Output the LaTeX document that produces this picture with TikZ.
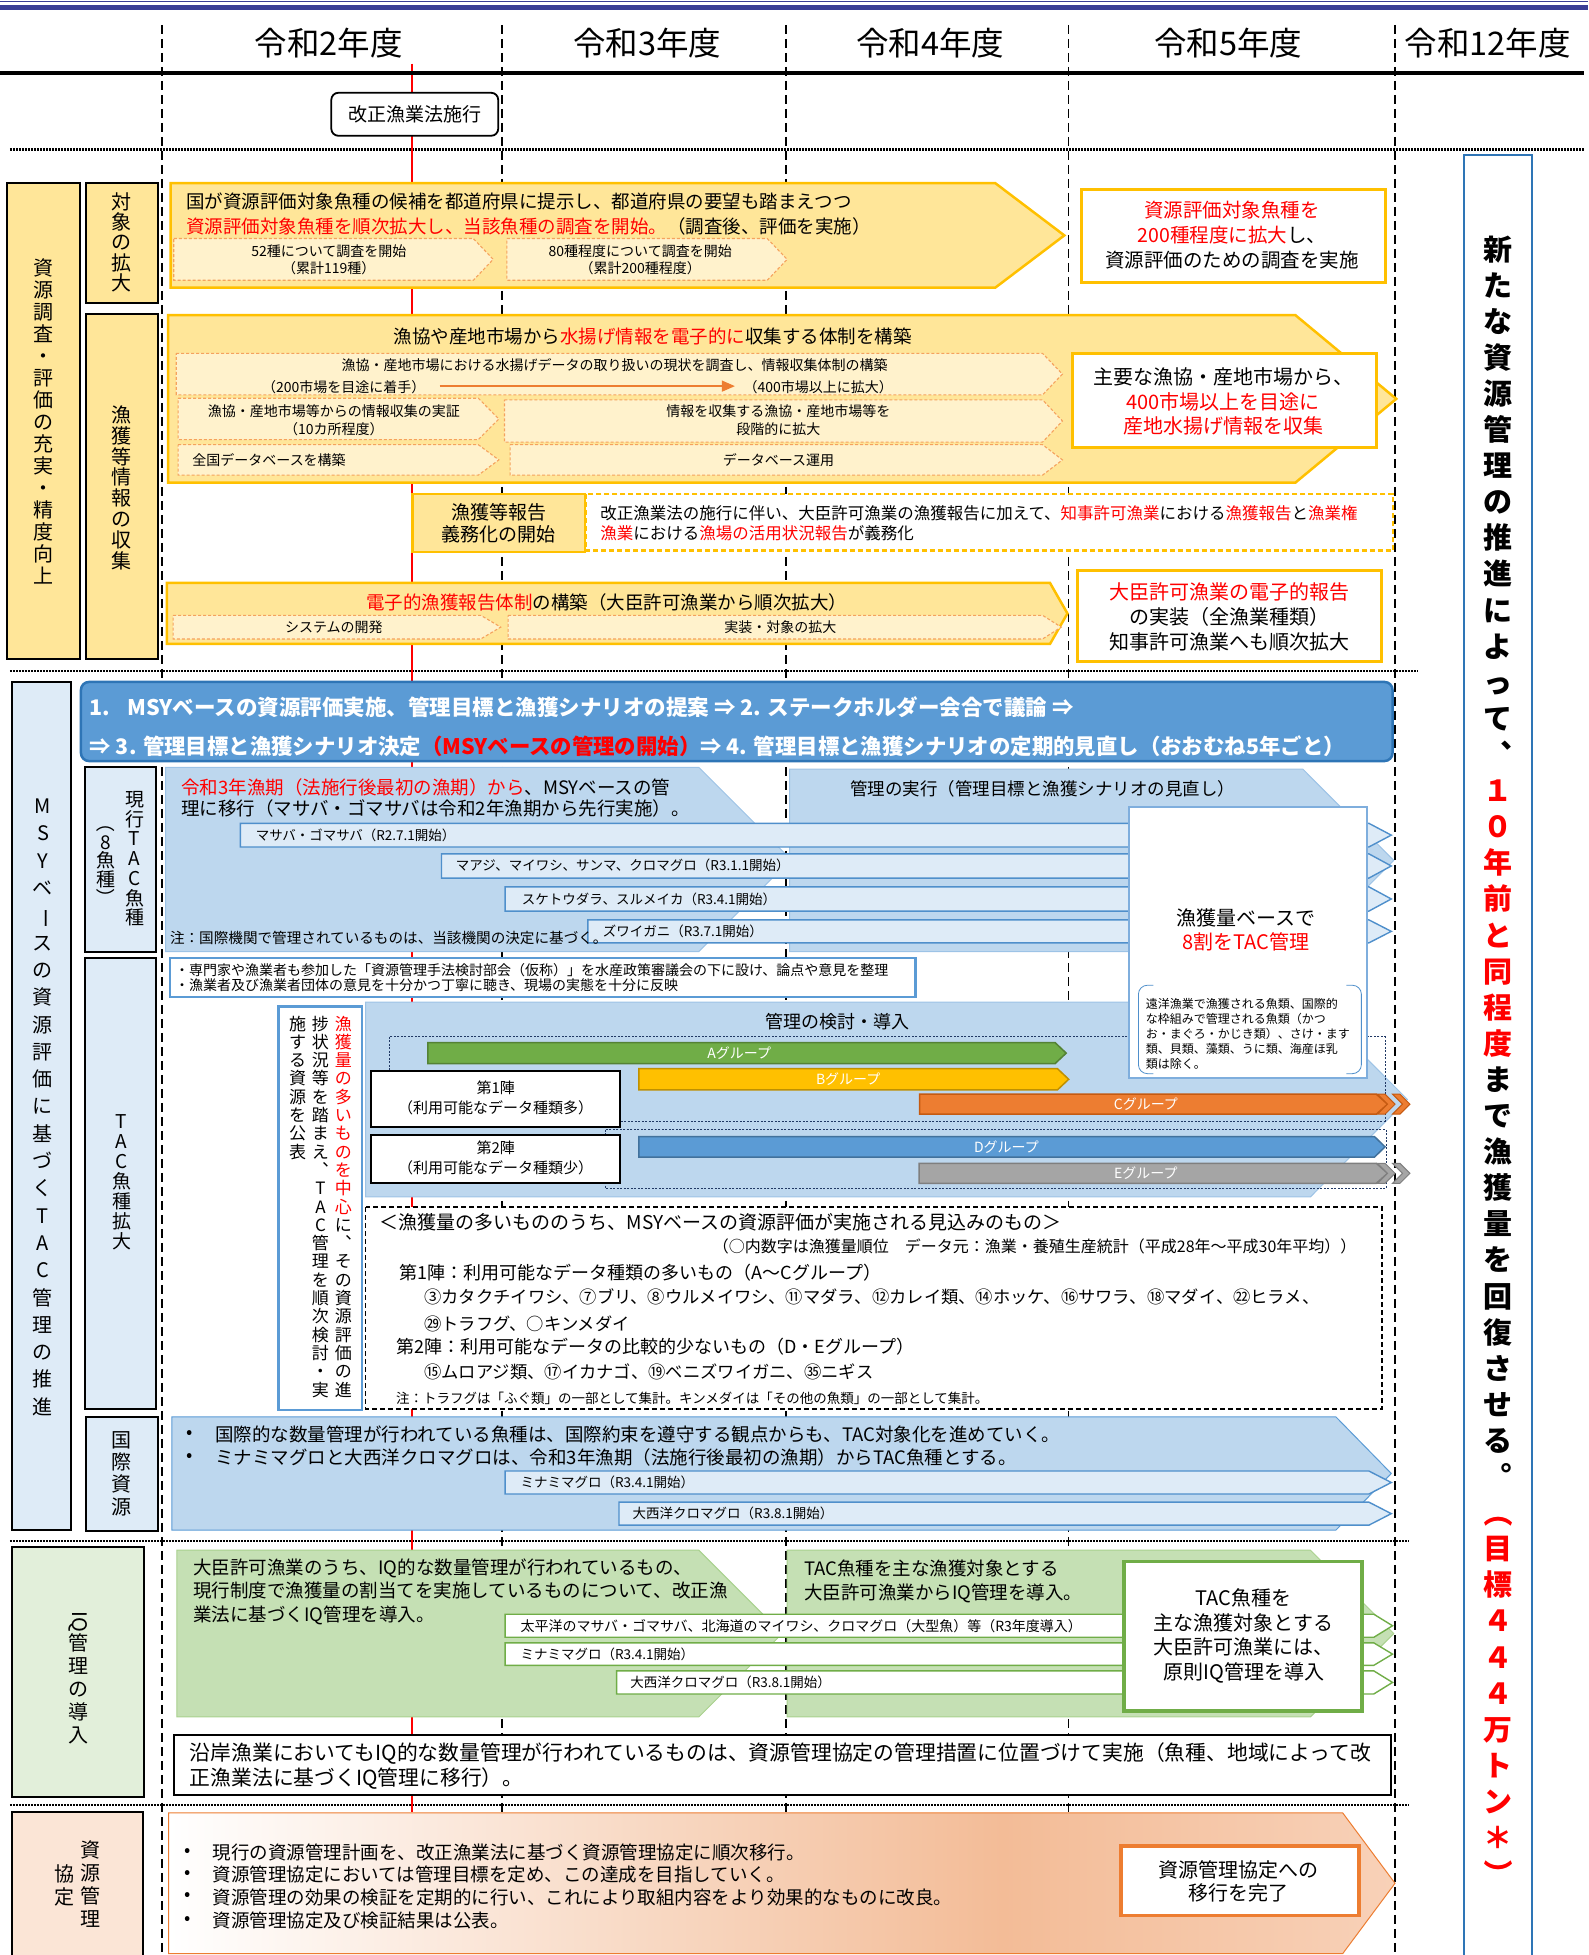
\documentclass[tikz,border=0pt]{standalone}
\usepackage{fontspec}
\setmainfont{Noto Sans CJK JP}
\usepackage{graphicx}
\usetikzlibrary{arrows.meta}
\definecolor{navyb}{RGB}{58,62,150}
\definecolor{yf}{HTML}{FFE699}
\definecolor{yb}{HTML}{FFC000}
\definecolor{ys}{HTML}{FFF2CC}
\definecolor{subd}{HTML}{F5A25D}
\definecolor{lb}{HTML}{BDD7EE}
\definecolor{lbb}{HTML}{9DC3E6}
\definecolor{barf}{HTML}{DEEBF7}
\definecolor{barb}{HTML}{4F8FCB}
\definecolor{ban}{HTML}{5B9BD5}
\definecolor{banb}{HTML}{2E75B6}
\definecolor{gf}{HTML}{C5E0B4}
\definecolor{gb}{HTML}{70AD47}
\definecolor{gl}{HTML}{E2EFDA}
\definecolor{gbl}{HTML}{A9D18E}
\definecolor{pl}{HTML}{FBE5D6}
\definecolor{ob}{HTML}{ED7D31}
\definecolor{pch2}{HTML}{F3BC97}
\definecolor{pch3}{HTML}{F8D1B8}
\definecolor{grA}{HTML}{70AD47}\definecolor{grAb}{HTML}{548235}
\definecolor{grB}{HTML}{FFC000}\definecolor{grBb}{HTML}{BF9000}
\definecolor{grC}{HTML}{ED7D31}\definecolor{grCb}{HTML}{C55A11}
\definecolor{grD}{HTML}{5B9BD5}\definecolor{grDb}{HTML}{41719C}
\definecolor{grE}{HTML}{A5A5A5}\definecolor{grEb}{HTML}{7F7F7F}
\definecolor{dnavy}{HTML}{203864}
\definecolor{rbb}{HTML}{2E75B6}
\definecolor{wbb}{HTML}{7FAEDD}
\pgfdeclarehorizontalshading{peachsh}{100bp}{color(0bp)=(white); color(25bp)=(white); color(59bp)=(pch2); color(75bp)=(pch3); color(100bp)=(pch3)}
\newcommand\fsz[2]{\fontsize{#1}{#2}\selectfont}
\newcommand\rt[1]{\rotatebox[origin=c]{-90}{#1}}
\newcommand\vcm{︑}
\newcommand\vpd{︒}
\makeatletter
\def\vsend{\vsend}\def\vR{\vR}\def\vK{\vK}
\def\vsA#1{%
  \ifx\vsend#1\let\vs@next\relax
  \else\ifx\vR#1\def\vcur{red}\let\vs@next\vsA
  \else\ifx\vK#1\def\vcur{black}\let\vs@next\vsA
  \else\hbox to 1em{\hss\textcolor{\vcur}{#1}\hss}\let\vs@next\vsA
  \fi\fi\fi\vs@next}
\newcommand\V[1]{\vbox{\lineskiplimit=-\maxdimen\def\vcur{black}\vsA#1\vsend}}
\makeatother
\newcommand\penta[6]{\path[#1] (#2,#3) -- (#4,#3) -- (#5,{(#3+#6)/2}) -- (#4,#6) -- (#2,#6) -- cycle;}
\newcommand\chev[4]{\path[#1] (#2,#3) -- ({#2+6},#3) -- ({#2+14},{(#3+#4)/2}) -- ({#2+6},#4) -- (#2,#4) -- ({#2+8},{(#3+#4)/2}) -- cycle;}
\tikzset{
  every node/.style={inner sep=0pt, outer sep=0pt},
  vdash/.style={line width=1.5pt, dash pattern=on 9pt off 5pt},
  hdot/.style={line width=2.2pt, dash pattern=on 1.6pt off 1.4pt},
  lbl/.style={draw=black, line width=2pt},
  yarrow/.style={fill=yf, draw=yb, line width=2.5pt},
  sub/.style={fill=ys, draw=subd, line width=1.1pt, dash pattern=on 3pt off 2pt},
  ybox/.style={fill=white, draw=yb, line width=3pt},
  lbshape/.style={fill=lb, draw=lbb, line width=1pt},
  bbar/.style={fill=barf, draw=barb, line width=1.4pt},
  gbar/.style={fill=white, draw=gb, line width=1.4pt},
  gdot/.style={draw=dnavy, line width=0.9pt, dash pattern=on 2pt off 1.5pt},
  barlbl/.style={anchor=west, font=\fsz{13.5}{16}},
  sublbl/.style={font=\fsz{14}{17.4}, align=center},
  grlbl/.style={font=\fsz{14}{16}, text=white},
}
\begin{document}
\begin{tikzpicture}[x=1.2455pt,y=-1.2455pt]
\useasboundingbox (0,0) rectangle (1275,1569.6);
% ---------- background grid ----------
\fill[navyb] (0,0.9) rectangle (1275,1.7);
\fill[navyb] (0,4.0) rectangle (1275,8.0);
\foreach \x in {130,403,631,858,1120} \draw[vdash] (\x,20) -- (\x,1575);
\draw[hdot] (8,120) -- (1272,120);
\draw[hdot] (8,539) -- (1138,539);
\draw[hdot] (8,1237) -- (1131,1237);
\draw[hdot] (8,1449) -- (1131,1449);
\draw[red, line width=2pt] (331,51) -- (331,1455);
\draw[line width=4pt] (0,58.6) -- (1272,58.6);
\node[font=\fsz{32.5}{36}] (y2) at (264,34.8) {令和2年度};
\node[font=\fsz{32.5}{36}] (y3) at (519.5,34.8) {令和3年度};
\node[font=\fsz{32.5}{36}] (y4) at (747,34.8) {令和4年度};
\node[font=\fsz{32.5}{36}] (y5) at (986,34.8) {令和5年度};
\node[font=\fsz{32.5}{36}] (y12) at (1194.4,34.8) {令和12年度};
\path[draw=black, line width=1.8pt, fill=white, rounded corners=7pt] (266,74.5) rectangle (400,109);
\node[font=\fsz{19}{22}] (kaisei) at (333,92) {改正漁業法施行};
% ---------- right column ----------
\path[draw=rbb, line width=2pt, fill=white] (1175,124.5) rectangle (1230,1575);
\node[font=\bfseries\fsz{29}{36.1}] (goal) at (1202.7,852.5) {\V{新たな資源管理の推進によって\vcm\vR １０年前と同程度\vK まで漁獲量を回復させる\vpd\vR{\rt{（}}目標４４４万トン＊{\rt{）}}}};
% ---------- section 1 ----------
\path[lbl, fill=yf] (6,147) rectangle (64,529);
\path[lbl, fill=yf] (69,147) rectangle (127,243);
\path[lbl, fill=yf] (69,252) rectangle (127,529);
\node[font=\fsz{20}{22}] (v1) at (34.6,338) {\V{資源調査・評価の充実・精度向上}};
\node[font=\fsz{20}{20.2}] (v2) at (97.6,194.5) {\V{対象の拡大}};
\node[font=\fsz{20}{20.8}] (v3) at (97.6,391.5) {\V{漁獲等情報の収集}};
\penta{yarrow}{137}{147}{799}{854.5}{231}
\node[anchor=west, font=\fsz{18.5}{22}] (s1a) at (149.6,162) {国が資源評価対象魚種の候補を都道府県に提示し、都道府県の要望も踏まえつつ};
\node[anchor=west, font=\fsz{18.5}{22}] (s1b) at (149.6,181.5) {\textcolor{red}{資源評価対象魚種を順次拡大し、当該魚種の調査を開始。}（調査後、評価を実施）};
\penta{sub}{139.5}{191.5}{380}{396}{225}
\penta{sub}{407}{191.5}{616}{632}{225}
\node[sublbl] (s1c) at (264,208.5) {52種について調査を開始\\（累計119種）};
\node[sublbl] (s1d) at (514,208.5) {80種程度について調査を開始\\（累計200種程度）};
\path[ybox] (868,152.5) rectangle (1112,227);
\node[align=center, font=\fsz{19.5}{24.9}] (s1e) at (989,189) {\textcolor{red}{資源評価対象魚種を}\\\textcolor{red}{200種程度に拡大}し、\\資源評価のための調査を実施};
\penta{yarrow}{135}{253}{1040}{1121}{387.5}
\node[font=\fsz{18.5}{22}] (s2a) at (524,270) {漁協や産地市場から\textcolor{red}{水揚げ情報を電子的に}収集する体制を構築};
\penta{sub}{141.5}{283.7}{837}{853}{317}
\penta{sub}{143}{319.7}{384}{400.5}{353}
\penta{sub}{405}{321}{837}{853}{355}
\penta{sub}{143}{357}{384}{400.5}{381.5}
\penta{sub}{409.5}{357}{837}{853}{381.5}
\node[font=\fsz{14}{17}] (s2b) at (493.5,293) {漁協・産地市場における水揚げデータの取り扱いの現状を調査し、情報収集体制の構築};
\node[font=\fsz{14}{17}] (s2c) at (276,310.5) {（200市場を目途に着手）};
\node[font=\fsz{14}{17}] (s2d) at (657,310.5) {（400市場以上に拡大）};
\coordinate (arS) at (353,310);
\coordinate (arE) at (590,310);
\draw[draw=ob, line width=1.3pt, -{Triangle[length=13pt,width=11pt]}] (arS) -- (arE);
\node[align=center, font=\fsz{14}{18}] (s2e) at (268,337.3) {漁協・産地市場等からの情報収集の実証\\（10カ所程度）};
\node[align=center, font=\fsz{14}{18}] (s2f) at (625,337.5) {情報を収集する漁協・産地市場等を\\段階的に拡大};
\node[anchor=west, font=\fsz{14}{17}] (s2g) at (154.5,369.5) {全国データベースを構築};
\node[font=\fsz{14}{17}] (s2h) at (625,369.5) {データベース運用};
\path[ybox] (861,284) rectangle (1105,359);
\node[align=center, font=\fsz{20}{24.6}] (s2i) at (982,322.3) {主要な漁協・産地市場から、\\\textcolor{red}{400市場以上を目途に}\\\textcolor{red}{産地水揚げ情報を収集}};
\path[fill=yf, draw=yb, line width=2.5pt] (331,396.6) rectangle (469.5,443);
\path[fill=white, draw=yb, line width=2.5pt, dash pattern=on 5pt off 3pt] (470.5,396.6) rectangle (1118.5,442);
\node[align=center, font=\fsz{19}{22.4}] (s2j) at (400.5,420) {漁獲等報告\\義務化の開始};
\node[anchor=west, align=left, font=\fsz{16.5}{20}] (s2k) at (482,420) {改正漁業法の施行に伴い、大臣許可漁業の漁獲報告に加えて、\textcolor{red}{知事許可漁業}における\textcolor{red}{漁獲報告}と\textcolor{red}{漁業権}\\\textcolor{red}{漁業}における\textcolor{red}{漁場の活用状況報告}が義務化};
\penta{yarrow}{134}{468}{843}{857}{517}
\node[font=\fsz{18.5}{22}] (s3a) at (487,484) {\textcolor{red}{電子的漁獲報告体制}の構築（大臣許可漁業から順次拡大）};
\penta{sub}{139}{494}{386}{402}{513}
\penta{sub}{408}{494}{837}{852}{513}
\node[font=\fsz{14}{17}] (s3b) at (268,503.5) {システムの開発};
\node[font=\fsz{14}{17}] (s3c) at (626.5,503.5) {実装・対象の拡大};
\path[ybox] (865,458) rectangle (1109,531);
\node[align=center, font=\fsz{20}{25.2}] (s3d) at (987,495.3) {\textcolor{red}{大臣許可漁業の電子的報告}\\の実装（全漁業種類）\\知事許可漁業へも順次拡大};
% ---------- section 2 ----------
\path[lbl, fill=barf] (10,547.5) rectangle (57,1228);
\path[lbl, fill=barf] (68,616) rectangle (125,764);
\path[lbl, fill=barf] (68,769) rectangle (125,1131);
\path[lbl, fill=barf] (69,1138) rectangle (127,1229);
\node[font=\fsz{20}{27.3}] (v4) at (34.5,889) {\V{MSYベ{\rt{ー}}スの資源評価に基づくTAC管理の推進}};
\node[font=\fsz{19}{19.7}] (v5) at (108,689.5) {\V{現行TAC魚種}};
\node[font=\fsz{19}{18.7}] (v6) at (85,691) {\V{{\rt{（}}8魚種{\rt{）}}}};
\node[font=\fsz{19}{20}] (v7) at (97.6,949) {\V{TAC魚種拡大}};
\node[font=\fsz{20}{22.4}] (v8) at (97.6,1183) {\V{国際資源}};
\path[fill=ban, draw=banb, line width=2.5pt, rounded corners=8pt] (65,547.5) rectangle (1118,611);
\node[anchor=west, font=\bfseries\fsz{21.5}{24}, text=white] (b1) at (72,567.5) {1.\hspace{0.8em}MSYベースの資源評価実施、管理目標と漁獲シナリオの提案 ⇒ 2. ステークホルダー会合で議論 ⇒};
\node[anchor=west, font=\bfseries\fsz{21.4}{24}, text=white] (b2) at (72,599) {⇒ 3. 管理目標と漁獲シナリオ決定\textcolor{red}{（MSYベースの管理の開始）}⇒ 4. 管理目標と漁獲シナリオの定期的見直し（おおむね5年ごと）};
\penta{lbshape}{133}{616}{561}{635}{764}
\penta{lbshape}{634}{617.5}{1046}{1119}{764}
\node[anchor=west, align=left, font=\fsz{18.5}{21.2}] (g1) at (145.6,640.5) {\textcolor{red}{令和3年漁期（法施行後最初の漁期）から}、MSYベースの管\\理に移行（マサバ・ゴマサバは令和2年漁期から先行実施）。};
\node[font=\fsz{17.5}{21}] (g2) at (837,633) {管理の実行（管理目標と漁獲シナリオの見直し）};
\penta{bbar}{193}{661}{1099}{1117}{680}
\penta{bbar}{354.5}{685.5}{1099}{1117}{705}
\penta{bbar}{405.5}{712}{1099}{1117}{731.5}
\penta{bbar}{472}{738.5}{1099}{1117}{757}
\node[barlbl] (g3) at (205.5,670.5) {マサバ・ゴマサバ（R2.7.1開始）};
\node[barlbl] (g4) at (366,695) {マアジ、マイワシ、サンマ、クロマグロ（R3.1.1開始）};
\node[barlbl] (g5) at (419,722) {スケトウダラ、スルメイカ（R3.4.1開始）};
\node[barlbl] (g6) at (484,748) {ズワイガニ（R3.7.1開始）};
\node[anchor=west, font=\fsz{14.6}{17}] (g7) at (136.5,753) {注：国際機関で管理されているものは、当該機関の決定に基づく。};
% management study area
\penta{lbshape}{293.5}{804.5}{1052}{1130}{961}
\path[gdot] (313,832.5) rectangle (1112,900);
\path[gdot] (486,907) rectangle (1113,954);
\node[font=\fsz{18}{21}] (g14) at (672,820.5) {管理の検討・導入};
\penta{fill=grA, draw=grAb, line width=1.5pt}{343.5}{837}{847}{856}{854}
\penta{fill=grB, draw=grBb, line width=1.5pt}{513}{858}{849}{858}{875}
\penta{fill=grC, draw=grCb, line width=1.5pt}{738.3}{878.5}{1105}{1114}{894.5}
\chev{fill=grC, draw=grCb, line width=1pt}{1106}{878.5}{894.5}
\chev{fill=grC, draw=grCb, line width=1pt}{1118}{878.5}{894.5}
\penta{fill=grD, draw=grDb, line width=1.5pt}{513}{912.5}{1103.5}{1112}{929}
\penta{fill=grE, draw=grEb, line width=1.5pt}{738}{934}{1105}{1114}{950}
\chev{fill=grE, draw=grEb, line width=1pt}{1106}{934}{950}
\chev{fill=grE, draw=grEb, line width=1pt}{1118}{934}{950}
\node[grlbl] (gA) at (593.5,845.5) {Aグループ};
\node[grlbl] (gB) at (681,866.5) {Bグループ};
\node[grlbl] (gC) at (920,886.5) {Cグループ};
\node[grlbl] (gD) at (808,920.8) {Dグループ};
\node[grlbl] (gE) at (920,942) {Eグループ};
\path[fill=white, draw=black, line width=2.2pt] (298,860) rectangle (498,905);
\path[fill=white, draw=black, line width=2.2pt] (298,911) rectangle (498,950);
\node[align=center, font=\fsz{15}{20}] (g15) at (398,881.6) {第1陣\\（利用可能なデータ種類多）};
\node[align=center, font=\fsz{15}{20}] (g16) at (398,930) {第2陣\\（利用可能なデータ種類少）};
% white box 8割
\path[fill=white, draw=wbb, line width=2.5pt] (906.5,648) rectangle (1097.5,865.5);
\node[align=center, font=\fsz{20}{23.7}] (g8) at (1000.5,746.5) {漁獲量ベースで\\\textcolor{red}{8割をTAC管理}};
\draw[draw=barb, line width=0.8pt, rounded corners=9pt] (926,791) -- (914,791) -- (914,862) -- (926,862);
\draw[draw=barb, line width=0.8pt, rounded corners=9pt] (1081,791) -- (1093,791) -- (1093,862) -- (1081,862);
\node[anchor=west, align=left, font=\fsz{12}{15}] (g9) at (920,830) {遠洋漁業で漁獲される魚類、国際的\\な枠組みで管理される魚類（かつ\\お・まぐろ・かじき類）、さけ・ます\\類、貝類、藻類、うに類、海産ほ乳\\類は除く。};
% bullet box
\path[fill=white, draw=ban, line width=2.5pt] (136.5,769) rectangle (735,800.5);
\node[anchor=west, align=left, font=\fsz{14}{15}] (g10) at (140.5,785) {・専門家や漁業者も参加した「資源管理手法検討部会（仮称）」を水産政策審議会の下に設け、論点や意見を整理\\・漁業者及び漁業者団体の意見を十分かつ丁寧に聴き、現場の実態を十分に反映};
% vertical text box
\path[fill=white, draw=ban, line width=2.5pt] (223.6,808) rectangle (290.7,1132);
\node[anchor=north, font=\fsz{17}{18.3}] (g11) at (275.6,815.5) {\V{\vR 漁獲量の多いものを中心\vK に\vcm その資源評価の進}};
\node[anchor=north, font=\fsz{17}{18.3}] (g12) at (257.3,815.5) {\V{捗状況等を踏まえ\vcm TAC管理を順次検討・実}};
\node[anchor=north, font=\fsz{17}{18.3}] (g13) at (239,815.5) {\V{施する資源を公表}};
% species dashed box
\path[fill=white, draw=black, line width=1.8pt, dash pattern=on 5pt off 3pt] (293.5,969) rectangle (1109.5,1131);
\node[anchor=west, font=\fsz{19}{22}] (sp1) at (305,981) {＜漁獲量の多いもののうち、MSYベースの資源評価が実施される見込みのもの＞};
\node[anchor=east, font=\fsz{16}{19}] (sp2) at (1089,1001) {（○内数字は漁獲量順位　データ元：漁業・養殖生産統計（平成28年～平成30年平均））};
\node[anchor=west, font=\fsz{18}{21}] (sp3) at (321,1022) {第1陣：利用可能なデータ種類の多いもの（A～Cグループ）};
\node[anchor=west, font=\fsz{17.3}{20}] (sp4) at (340.7,1041.5) {③カタクチイワシ、⑦ブリ、⑧ウルメイワシ、⑪マダラ、⑫カレイ類、⑭ホッケ、⑯サワラ、⑱マダイ、㉒ヒラメ、};
\node[anchor=west, font=\fsz{17.3}{20}] (sp5) at (340.7,1063) {㉙トラフグ、○キンメダイ};
\node[anchor=west, font=\fsz{18}{21}] (sp6) at (318,1081.3) {第2陣：利用可能なデータの比較的少ないもの（D・Eグループ）};
\node[anchor=west, font=\fsz{17.3}{20}] (sp7) at (340.7,1101.5) {⑮ムロアジ類、⑰イカナゴ、⑲ベニズワイガニ、㉟ニギス};
\node[anchor=west, font=\fsz{13.5}{16}] (sp8) at (318,1123) {注：トラフグは「ふぐ類」の一部として集計。キンメダイは「その他の魚類」の一部として集計。};
% international
\penta{fill=lb, draw=ban, line width=1pt}{138}{1137.5}{1072.5}{1117}{1228.5}
\node[font=\fsz{18.5}{22}] (in1) at (152.5,1152) {•};
\node[font=\fsz{18.5}{22}] (in2) at (152.5,1170.5) {•};
\node[anchor=west, font=\fsz{18.5}{22}] (in3) at (172.8,1152) {国際的な数量管理が行われている魚種は、国際約束を遵守する観点からも、TAC対象化を進めていく。};
\node[anchor=west, font=\fsz{18.5}{22}] (in4) at (172.8,1170.5) {ミナミマグロと大西洋クロマグロは、令和3年漁期（法施行後最初の漁期）からTAC魚種とする。};
\penta{bbar}{405.5}{1181}{1099}{1117}{1199.5}
\penta{bbar}{497}{1206}{1099}{1117}{1224.5}
\node[barlbl] (in5) at (418,1190.5) {ミナミマグロ（R3.4.1開始）};
\node[barlbl] (in6) at (508,1215) {大西洋クロマグロ（R3.8.1開始）};
% ---------- section 3 ----------
\path[lbl, fill=gl] (10,1242) rectangle (116,1443);
\node[font=\fsz{20}{23}] (v9) at (63,1347) {\V{{\rt{IQ}}管理の導入}};
\penta{fill=gf, draw=gbl, line width=1pt}{142}{1244.5}{561}{628}{1378.5}
\penta{fill=gf, draw=gbl, line width=1pt}{632}{1244.5}{1052}{1119}{1378.5}
\node[anchor=west, align=left, font=\fsz{18.5}{23.7}] (iq1) at (155.3,1278) {大臣許可漁業のうち、IQ的な数量管理が行われているもの、\\現行制度で漁獲量の割当てを実施しているものについて、改正漁\\業法に基づくIQ管理を導入。};
\node[anchor=west, align=left, font=\fsz{18.5}{23.7}] (iq2) at (645.6,1269.5) {TAC魚種を主な漁獲対象とする\\大臣許可漁業からIQ管理を導入。};
\penta{gbar}{405.5}{1296}{1103}{1118}{1314.5}
\penta{gbar}{405.5}{1319}{1103}{1118}{1337}
\penta{gbar}{495}{1341.5}{1103}{1118}{1360}
\node[barlbl, font=\fsz{14}{16}] (iq3) at (418,1305.5) {太平洋のマサバ・ゴマサバ、北海道のマイワシ、クロマグロ（大型魚）等（R3年度導入）};
\node[barlbl] (iq4) at (418,1328.5) {ミナミマグロ（R3.4.1開始）};
\node[barlbl] (iq5) at (506,1350.5) {大西洋クロマグロ（R3.8.1開始）};
\path[fill=white, draw=gb, line width=3.5pt] (902.5,1253.5) rectangle (1093.5,1373.5);
\node[align=center, font=\fsz{20}{24.9}] (iq6) at (998.5,1313.4) {TAC魚種を\\主な漁獲対象とする\\大臣許可漁業には、\\原則IQ管理を導入};
\path[fill=white, draw=black, line width=2pt] (140,1393) rectangle (1117,1441);
\node[anchor=west, align=left, font=\fsz{20.8}{24.9}] (iq7) at (152.5,1417.5) {沿岸漁業においてもIQ的な数量管理が行われているものは、資源管理協定の管理措置に位置づけて実施（魚種、地域によって改\\正漁業法に基づくIQ管理に移行）。};
% ---------- section 4 ----------
\path[lbl, fill=pl] (10,1455) rectangle (115,1580);
\node[font=\fsz{20}{23}] (v10) at (73,1512.5) {\V{資源管理}};
\node[font=\fsz{20}{23}] (v11) at (52,1513.5) {\V{協定}};
\shadedraw[shading=peachsh, draw=ob, line width=1pt] (135.4,1455.5) -- (1078,1455.5) -- (1120,1512) -- (1078,1568.5) -- (135.4,1568.5) -- cycle;
\node[font=\fsz{18.5}{22}] (pb1) at (151,1487) {•};
\node[font=\fsz{18.5}{22}] (pb2) at (151,1505) {•};
\node[font=\fsz{18.5}{22}] (pb3) at (151,1523) {•};
\node[font=\fsz{18.5}{22}] (pb4) at (151,1541.6) {•};
\node[anchor=west, align=left, font=\fsz{18.5}{22.7}] (p5) at (170.8,1514.3) {現行の資源管理計画を、改正漁業法に基づく資源管理協定に順次移行。\\資源管理協定においては管理目標を定め、この達成を目指していく。\\資源管理の効果の検証を定期的に行い、これにより取組内容をより効果的なものに改良。\\資源管理協定及び検証結果は公表。};
\path[fill=white, draw=ob, line width=3.5pt] (900,1482) rectangle (1091,1538);
\node[align=center, font=\fsz{20}{23.7}] (p6) at (994.5,1510.5) {資源管理協定への\\移行を完了};
\end{tikzpicture}
\end{document}
